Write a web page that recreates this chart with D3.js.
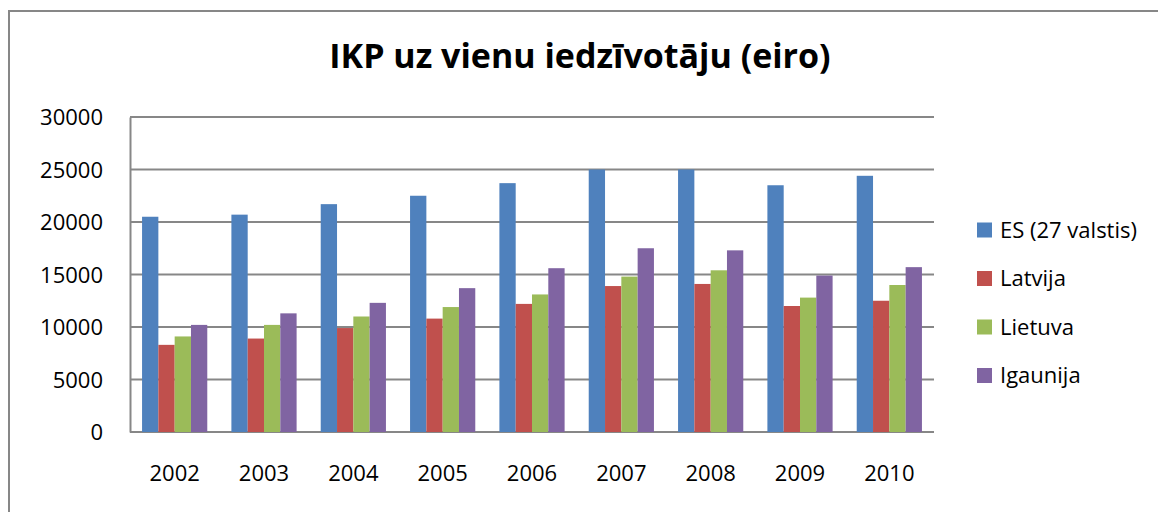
<!DOCTYPE html>
<html>
<head>
<meta charset="utf-8">
<script src="https://cdn.jsdelivr.net/npm/d3@7"></script>
<style>
  body { margin: 0; background: #fff; }
  text { font-family: "Open Sans", sans-serif; fill: #000; }
</style>
</head>
<body>
<div id="chart-area"></div>
<script>

// data
let years = ["2002", "2003", "2004", "2005", "2006", "2007", "2008", "2009", "2010"];
let seriesNames = ["ES (27 valstis)", "Latvija", "Lietuva", "Igaunija"];
let es      = [20500, 20700, 21700, 22500, 23700, 25000, 25000, 23500, 24400];
let latvija = [8300, 8900, 9900, 10800, 12200, 13900, 14100, 12000, 12500];
let lietuva = [9100, 10200, 11000, 11900, 13100, 14800, 15400, 12800, 14000];
let igaunija = [10200, 11300, 12300, 13700, 15600, 17500, 17300, 14900, 15700];
let yTicks = [0, 5000, 10000, 15000, 20000, 25000, 30000];
let colors = ["#4F81BD", "#C0504D", "#9BBB59", "#8064A2"];

let allSeries = [es, latvija, lietuva, igaunija];

let W = 1158, H = 512;
let margin = {top: 117, left: 130};
let width = 804, height = 315;

let svg = d3.select("#chart-area").append("svg")
    .attr("width", W)
    .attr("height", H);

// outer chart border
svg.append("path")
    .attr("d", "M9," + H + "V11H" + W)
    .attr("fill", "none")
    .attr("stroke", "#878787")
    .attr("stroke-width", 2);

// title
svg.append("text")
    .attr("x", 580)
    .attr("y", 68)
    .attr("text-anchor", "middle")
    .style("font-weight", "bold")
    .style("font-size", "34px")
    .text("IKP uz vienu iedzīvotāju (eiro)");

let g = svg.append("g")
    .attr("transform", "translate(" + margin.left + "," + margin.top + ")");

// Scales
let x = d3.scaleBand()
    .domain(years)
    .range([0, width])
    .paddingInner(0.27)
    .paddingOuter(0.135);

let x1 = d3.scaleBand()
    .domain(d3.range(seriesNames.length))
    .range([0, x.bandwidth()]);

let y = d3.scaleLinear()
    .domain([0, 30000])
    .range([height, 0]);

// gridlines
g.selectAll(".grid")
    .data(yTicks)
    .enter().append("line")
    .attr("class", "grid")
    .attr("x1", 0)
    .attr("x2", width)
    .attr("y1", d => y(d))
    .attr("y2", d => y(d))
    .attr("stroke", "#878787")
    .attr("stroke-width", 2);

// y axis
let yAxis = d3.axisLeft(y).tickValues(yTicks).tickFormat(d3.format("d")).tickSize(0).tickPadding(27);
let yg = g.append("g").call(yAxis);
yg.select(".domain").attr("stroke", "#878787").attr("stroke-width", 2);
yg.selectAll("text").style("font-size", "22px").attr("dy", "0.35em");

// x axis
let xAxis = d3.axisBottom(x).tickSize(0).tickPadding(33);
let xg = g.append("g")
    .attr("transform", "translate(0," + height + ")")
    .call(xAxis);
xg.select(".domain").remove();
xg.selectAll("text").style("font-size", "22px");

// bars
let groups = g.selectAll(".year")
    .data(years)
    .enter().append("g")
    .attr("class", "year")
    .attr("transform", d => "translate(" + x(d) + ",0)");

groups.selectAll("rect")
    .data((d, i) => allSeries.map((s, j) => ({series: j, value: s[i]})))
    .enter().append("rect")
    .attr("x", d => x1(d.series))
    .attr("y", d => y(d.value))
    .attr("width", x1.bandwidth())
    .attr("height", d => height - y(d.value))
    .attr("fill", d => colors[d.series]);

// legend
let legend = svg.selectAll(".legend")
    .data(seriesNames)
    .enter().append("g")
    .attr("class", "legend")
    .attr("transform", (d, i) => "translate(977," + (230 + i * 48.5) + ")");

legend.append("rect")
    .attr("x", 0)
    .attr("y", -7.5)
    .attr("width", 15)
    .attr("height", 15)
    .attr("fill", (d, i) => colors[i]);

legend.append("text")
    .attr("x", 23)
    .attr("dy", "0.35em")
    .style("font-size", "22px")
    .text(d => d);

</script>
</body>
</html>
